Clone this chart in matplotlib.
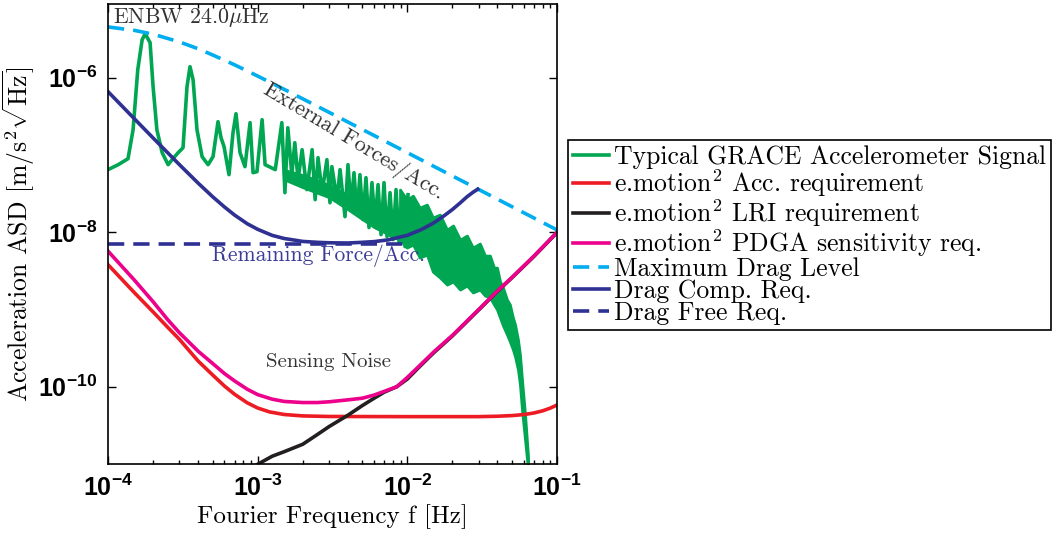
import matplotlib
matplotlib.use("Agg")
import matplotlib.pyplot as plt
from matplotlib.ticker import LogLocator, NullLocator, NullFormatter

plt.rcParams["font.family"] = "cmr10"
plt.rcParams["mathtext.fontset"] = "cm"
plt.rcParams["mathtext.bf"] = "Liberation Sans:bold"
plt.rcParams["mathtext.rm"] = "Liberation Sans:bold"
plt.rcParams["axes.unicode_minus"] = False

# ==========================
# data
# ==========================

# typical GRACE accelerometer signal (spiky part)
green_f = [1.00e-4, 1.17e-4, 1.36e-4, 1.47e-4, 1.58e-4, 1.69e-4, 1.77e-4, 1.91e-4,
           2.00e-4, 2.12e-4, 2.30e-4, 2.52e-4, 2.68e-4, 2.94e-4, 3.17e-4, 3.37e-4,
           3.53e-4, 3.70e-4, 3.93e-4, 4.25e-4, 4.66e-4, 5.03e-4, 5.43e-4, 5.69e-4,
           5.96e-4, 6.43e-4, 6.84e-4, 7.16e-4, 7.62e-4, 8.22e-4, 8.89e-4, 9.31e-4,
           9.89e-4, 1.07e-3, 1.12e-3, 1.31e-3, 1.45e-3, 1.52e-3, 1.59e-3, 1.69e-3,
           1.77e-3, 1.86e-3, 1.98e-3, 2.13e-3, 2.31e-3, 2.42e-3, 2.53e-3, 2.69e-3,
           2.90e-3, 3.04e-3, 3.13e-3, 3.39e-3, 3.55e-3, 3.83e-3, 4.01e-3, 4.20e-3,
           4.40e-3, 4.61e-3, 4.82e-3, 5.05e-3, 5.29e-3, 5.54e-3, 5.80e-3, 6.08e-3,
           6.37e-3, 6.67e-3, 6.98e-3, 7.31e-3, 7.66e-3, 8.02e-3, 8.40e-3, 8.80e-3,
           9.21e-3, 9.65e-3, 1.01e-2]
green_asd = [6.46e-8, 7.49e-8, 8.95e-8, 2.12e-7, 1.27e-6, 3.10e-6, 3.71e-6, 2.84e-6,
             7.65e-7, 2.12e-7, 1.07e-7, 7.49e-8, 8.69e-8, 1.07e-7, 1.24e-7, 7.65e-7,
             1.39e-6, 9.42e-7, 2.12e-7, 9.51e-8, 7.49e-8, 9.51e-8, 2.70e-7, 1.67e-7,
             1.28e-7, 5.56e-8, 1.94e-7, 3.42e-7, 1.07e-7, 7.06e-8, 2.62e-7, 5.90e-8,
             6.08e-8, 2.86e-7, 7.49e-8, 6.46e-8, 2.62e-7, 3.25e-8, 2.25e-7, 5.56e-8,
             1.44e-7, 4.79e-8, 1.17e-7, 3.56e-8, 1.17e-7, 2.64e-8, 9.23e-8, 3.25e-8,
             8.69e-8, 2.41e-8, 7.06e-8, 2.64e-8, 6.46e-8, 1.59e-8, 7.49e-8, 2.14e-8,
             5.90e-8, 1.69e-8, 5.56e-8, 1.46e-8, 5.08e-8, 1.15e-8, 4.38e-8, 1.29e-8,
             4.13e-8, 9.31e-9, 4.38e-8, 8.77e-9, 3.25e-8, 8.02e-9, 3.56e-8, 7.33e-9,
             3.06e-8, 6.51e-9, 3.06e-8]

# dense core of the signal between 1.5 mHz and 9 mHz
core_f = [1.5e-3, 2e-3, 3e-3, 4e-3, 5e-3, 6e-3, 7e-3, 8e-3, 9e-3]
core_high = [6.46e-8, 5.56e-8, 4.13e-8, 3.06e-8, 2.64e-8, 2.14e-8, 1.85e-8, 1.69e-8, 1.69e-8]
core_low = [4.79e-8, 3.78e-8, 2.81e-8, 1.96e-8, 1.46e-8, 1.15e-8, 9.89e-9, 8.51e-9, 8.02e-9]

# dense high-frequency part (band envelope)
band_f = [8.93e-3, 9.93e-3, 1.09e-2, 1.21e-2, 1.35e-2, 1.48e-2, 1.65e-2, 1.84e-2,
          2.02e-2, 2.25e-2, 2.50e-2, 2.74e-2, 3.05e-2, 3.30e-2, 3.56e-2, 3.79e-2,
          3.97e-2, 4.16e-2, 4.35e-2, 4.63e-2, 4.84e-2, 5.07e-2, 5.24e-2, 5.48e-2,
          5.65e-2, 5.83e-2, 6.11e-2, 6.40e-2]
band_high = [3.56e-8, 2.64e-8, 2.97e-8, 2.08e-8, 2.28e-8, 1.55e-8, 1.69e-8, 1.08e-8,
             1.22e-8, 8.02e-9, 9.04e-9, 6.33e-9, 7.13e-9, 4.98e-9, 4.98e-9, 3.48e-9,
             3.48e-9, 2.30e-9, 1.92e-9, 1.34e-9, 1.16e-9, 7.85e-10, 6.38e-10, 4.08e-10,
             2.61e-10, 1.24e-10, 4.37e-11, 1.25e-11]
band_low = [8.02e-9, 6.33e-9, 6.92e-9, 4.69e-9, 5.13e-9, 3.09e-9, 2.59e-9, 2.10e-9,
            2.30e-9, 1.81e-9, 2.04e-9, 1.66e-9, 1.81e-9, 1.51e-9, 1.43e-9, 1.16e-9,
            9.98e-10, 7.85e-10, 6.20e-10, 4.73e-10, 3.85e-10, 3.03e-10, 2.46e-10, 1.67e-10,
            1.07e-10, 5.07e-11, 2.07e-11, 8.5e-12]

# e.motion^2 accelerometer requirement
acc_f = [1e-4, 1.5e-4, 2e-4, 2.5e-4, 3e-4, 4e-4, 5e-4, 6e-4, 7e-4, 8.5e-4, 1e-3, 1.2e-3,
         1.5e-3, 2e-3, 3e-3, 1e-2, 3e-2, 4e-2, 5e-2, 6e-2, 7e-2, 8e-2, 9e-2, 1e-1]
acc_asd = [3.8e-9, 1.65e-9, 9.3e-10, 5.9e-10, 4.1e-10, 2.15e-10, 1.42e-10, 1.02e-10,
           8.0e-11, 6.2e-11, 5.3e-11, 4.72e-11, 4.37e-11, 4.19e-11, 4.12e-11, 4.1e-11,
           4.1e-11, 4.15e-11, 4.23e-11, 4.36e-11, 4.57e-11, 4.87e-11, 5.28e-11, 5.8e-11]

# e.motion^2 LRI requirement
lri_f = [9.8e-4, 1.25e-3, 1.5e-3, 2e-3, 2.5e-3, 3e-3, 4e-3, 5e-3, 6e-3, 7e-3, 8.5e-3,
         1e-2, 1.25e-2, 1.5e-2, 2e-2, 3e-2, 4e-2, 5e-2, 7e-2, 1e-1]
lri_asd = [9.7e-12, 1.26e-11, 1.44e-11, 1.8e-11, 2.4e-11, 3.05e-11, 4.27e-11, 5.7e-11,
           7.1e-11, 8.5e-11, 1.0e-10, 1.26e-10, 1.95e-10, 2.75e-10, 4.55e-10, 9.9e-10,
           1.72e-9, 2.58e-9, 4.85e-9, 9.9e-9]

# e.motion^2 PDGA sensitivity
pdga_f = [1e-4, 1.5e-4, 2e-4, 2.5e-4, 3e-4, 4e-4, 5e-4, 6e-4, 7e-4, 8.5e-4, 1e-3,
          1.25e-3, 1.5e-3, 2e-3, 2.5e-3, 3e-3, 4e-3, 5e-3, 6e-3, 7e-3, 8.5e-3, 1e-2,
          1.25e-2, 1.5e-2, 2e-2, 3e-2, 4e-2, 5e-2, 7e-2, 1e-1]
pdga_asd = [5.69e-9, 2.4e-9, 1.26e-9, 7.4e-10, 5.0e-10, 2.88e-10, 2.0e-10, 1.48e-10,
            1.19e-10, 9.3e-11, 7.9e-11, 6.9e-11, 6.45e-11, 6.24e-11, 6.24e-11, 6.38e-11,
            6.76e-11, 7.1e-11, 7.8e-11, 8.7e-11, 1.0e-10, 1.32e-10, 2.0e-10, 2.82e-10,
            4.62e-10, 1.0e-9, 1.74e-9, 2.6e-9, 4.9e-9, 1.0e-8]

# maximum drag level
drag_f = [1e-4, 1.5e-4, 2e-4, 3e-4, 4e-4, 5e-4, 7e-4, 1e-3, 1.5e-3, 2e-3, 3e-3, 5e-3,
          7e-3, 1e-2, 2e-2, 3e-2, 5e-2, 7e-2, 1e-1]
drag_asd = [4.54e-6, 4.10e-6, 3.66e-6, 2.91e-6, 2.37e-6, 1.97e-6, 1.47e-6, 1.05e-6,
            7.08e-7, 5.33e-7, 3.56e-7, 2.14e-7, 1.53e-7, 1.07e-7, 5.35e-8, 3.57e-8,
            2.14e-8, 1.53e-8, 1.07e-8]

# drag compensation requirement
comp_f = [1e-4, 1.5e-4, 2e-4, 3e-4, 4e-4, 5e-4, 6e-4, 7e-4, 8.5e-4, 1e-3, 1.25e-3,
          1.5e-3, 2e-3, 2.5e-3, 3e-3, 4e-3, 5e-3, 6e-3, 7.5e-3, 1e-2, 1.25e-2, 1.5e-2,
          1.75e-2, 2e-2, 2.25e-2, 2.5e-2, 2.75e-2, 2.95e-2]
comp_asd = [6.6e-7, 2.94e-7, 1.66e-7, 7.49e-8, 4.32e-8, 2.88e-8, 2.12e-8, 1.67e-8,
            1.29e-8, 1.09e-8, 9.1e-9, 8.3e-9, 7.6e-9, 7.4e-9, 7.3e-9, 7.25e-9, 7.4e-9,
            7.56e-9, 7.98e-9, 9.12e-9, 1.09e-8, 1.32e-8, 1.62e-8, 1.97e-8, 2.39e-8,
            2.87e-8, 3.3e-8, 3.6e-8]

# drag free requirement
free_f = [1e-4, 1e-2]
free_asd = [7.1e-9, 7.1e-9]

xtick_vals = [1e-4, 1e-3, 1e-2, 1e-1]
xtick_labels = [r"$\mathbf{10^{-4}}$", r"$\mathbf{10^{-3}}$",
                r"$\mathbf{10^{-2}}$", r"$\mathbf{10^{-1}}$"]
ytick_vals = [1e-10, 1e-8, 1e-6]
ytick_labels = [r"$\mathbf{10^{-10}}$", r"$\mathbf{10^{-8}}$", r"$\mathbf{10^{-6}}$"]

c_green = "#00A651"
c_red = "#ED1C24"
c_black = "#231F20"
c_pink = "#EC008C"
c_lblue = "#00AEEF"
c_navy = "#2E3192"

# ==========================
# plot
# ==========================

fig = plt.figure(figsize=(10.54, 5.33), dpi=100)
ax = fig.add_axes([0.1025, 0.1295, 0.426, 0.863])

lw = 2.6
ax.plot(green_f, green_asd, color=c_green, lw=lw,
        label="Typical GRACE Accelerometer Signal")
ax.fill_between(core_f, core_low, core_high, facecolor=c_green, edgecolor=c_green, lw=1.5)
ax.fill_between(band_f, band_low, band_high, facecolor=c_green, edgecolor=c_green, lw=2)
ax.plot(acc_f, acc_asd, color=c_red, lw=lw, label=r"e.motion$^2$ Acc. requirement")
ax.plot(lri_f, lri_asd, color=c_black, lw=lw, label=r"e.motion$^2$ LRI requirement")
ax.plot(pdga_f, pdga_asd, color=c_pink, lw=lw, label=r"e.motion$^2$ PDGA sensitivity req.")
ax.plot(drag_f, drag_asd, color=c_lblue, lw=lw, dashes=(4.5, 2.5),
        label="Maximum Drag Level")
ax.plot(comp_f, comp_asd, color=c_navy, lw=lw, label="Drag Comp. Req.")
ax.plot(free_f, free_asd, color=c_navy, lw=lw, dashes=(4.5, 2.5), label="Drag Free Req.")

ax.set_xscale("log")
ax.set_yscale("log")
ax.set_xlim(1e-4, 1e-1)
ax.set_ylim(1e-11, 9e-6)

ax.set_xticks(xtick_vals)
ax.set_xticklabels(xtick_labels, math_fontfamily="custom", fontsize=18)
ax.xaxis.set_minor_locator(LogLocator(base=10, subs=range(2, 10)))
ax.xaxis.set_minor_formatter(NullFormatter())
ax.set_yticks(ytick_vals)
ax.set_yticklabels(ytick_labels, math_fontfamily="custom", fontsize=18)
ax.yaxis.set_minor_locator(NullLocator())

ax.tick_params(which="both", direction="in", top=True, right=True, width=1)
ax.tick_params(which="major", length=6, pad=8)
ax.tick_params(which="minor", length=3)
for s in ax.spines.values():
    s.set_linewidth(1.2)

ax.set_xlabel("Fourier Frequency f [Hz]", fontsize=18, labelpad=2)
ax.set_ylabel(r"Acceleration ASD [m/s$^2\sqrt{\mathrm{Hz}}$]", fontsize=18.5)
ax.yaxis.set_label_coords(-0.158, 0.5)

ax.text(0.011, 0.97, r"ENBW 24.0$\mu$Hz", transform=ax.transAxes, fontsize=15.8,
        color="#333333", va="center", ha="left")
ax.text(0.548, 0.70, "External Forces/Acc.", transform=ax.transAxes, fontsize=16,
        color="#333333", rotation=-31, ha="center", va="center")
ax.text(0.468, 0.452, "Remaining Force/Acc.", transform=ax.transAxes, fontsize=15.5,
        color="#3B3B98", ha="center", va="center")
ax.text(0.492, 0.222, "Sensing Noise", transform=ax.transAxes, fontsize=15,
        color="#333333", ha="center", va="center")

leg = ax.legend(loc="upper left", bbox_to_anchor=(568 / 1054, 1 - 140 / 533),
                bbox_transform=fig.transFigure, borderaxespad=0, fontsize=18.5,
                frameon=True, fancybox=False, framealpha=1, edgecolor="black",
                handlelength=1.4, handletextpad=0.2, labelspacing=-0.06,
                borderpad=0.2)
leg.get_frame().set_linewidth(1.2)

fig.savefig("out.png", dpi=100)
